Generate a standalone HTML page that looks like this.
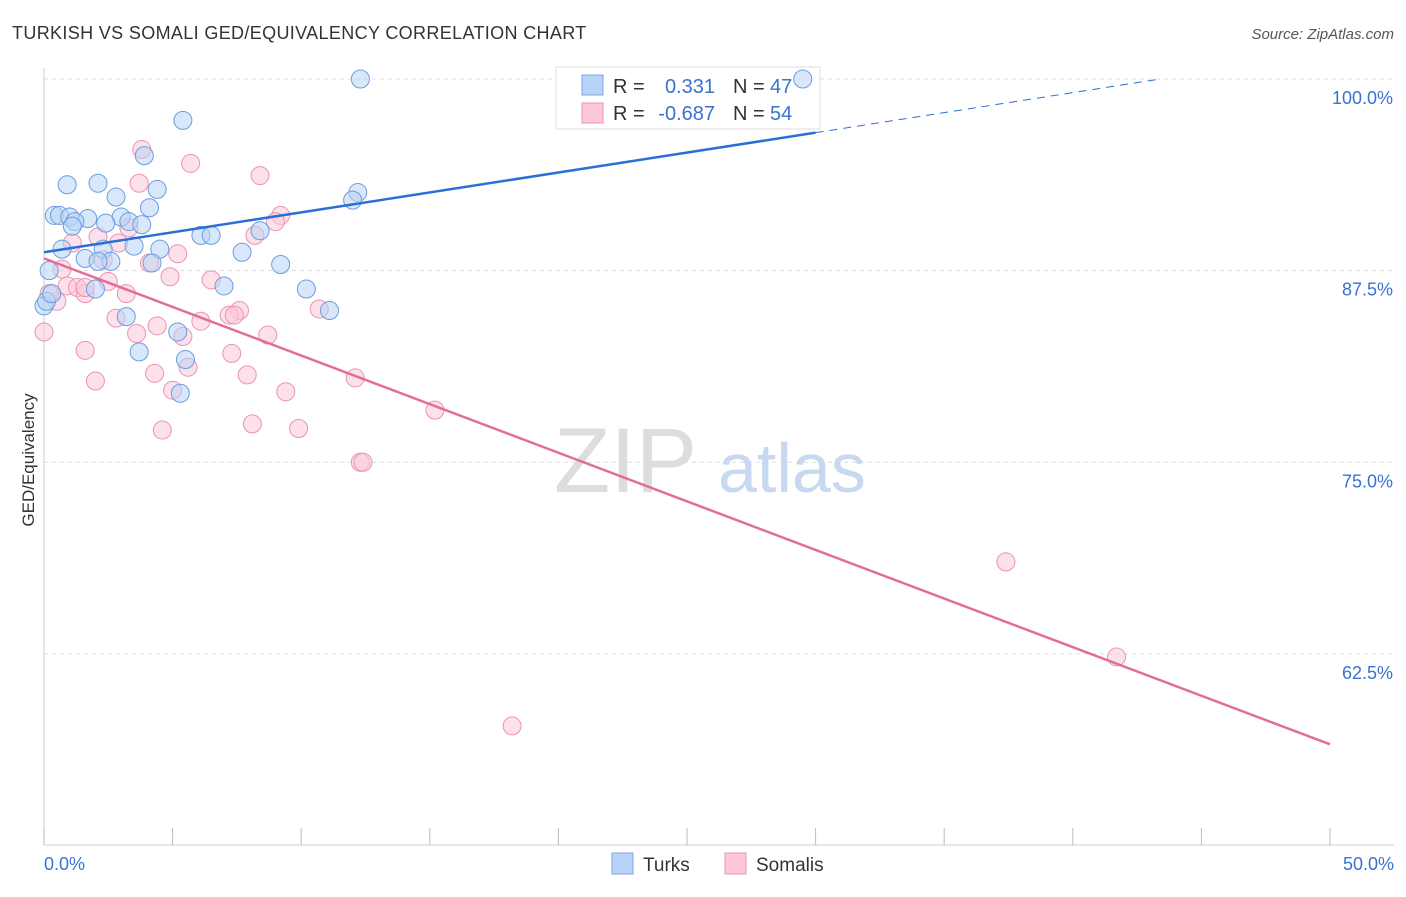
<!DOCTYPE html>
<html><head><meta charset="utf-8"><style>
body{margin:0;background:#fff;font-family:"Liberation Sans",sans-serif}
svg text{font-family:"Liberation Sans",sans-serif}
</style></head><body>
<svg id="c" width="1406" height="892" xmlns="http://www.w3.org/2000/svg">
<text x="12" y="39" font-size="18" fill="#333" letter-spacing="0.35">TURKISH VS SOMALI GED/EQUIVALENCY CORRELATION CHART</text>
<text x="1394" y="39" font-size="15" fill="#555" font-style="italic" text-anchor="end">Source: ZipAtlas.com</text>
<text x="34" y="460" font-size="17" fill="#333" transform="rotate(-90 34 460)" text-anchor="middle">GED/Equivalency</text>
<g id="grid"></g>
<text x="554" y="492" font-size="92" fill="#ddd" font-family="Liberation Serif">ZIP</text>
<text x="718" y="492" font-size="70" fill="#c8d8f0">atlas</text>
<g>
<rect x="556" y="67" width="264" height="62" fill="#fff" stroke="#ddd"/>
<rect x="582" y="75" width="21" height="20" fill="#b8d3f5" stroke="#7aa7e6"/>
<rect x="582" y="103" width="21" height="20" fill="#fcc8d8" stroke="#ec92b1"/>
<text x="613" y="93" font-size="20" fill="#333">R =</text>
<text x="715" y="93" font-size="20" fill="#3a72d0" text-anchor="end">0.331</text>
<text x="733" y="93" font-size="20" fill="#333">N =</text>
<text x="770" y="93" font-size="20" fill="#3a72d0">47</text>
<text x="613" y="120" font-size="20" fill="#333">R =</text>
<text x="715" y="120" font-size="20" fill="#3a72d0" text-anchor="end">-0.687</text>
<text x="733" y="120" font-size="20" fill="#333">N =</text>
<text x="770" y="120" font-size="20" fill="#3a72d0">54</text>
</g>
<g id="pts"></g>
<g id="lines"></g>
<g>
<rect x="612" y="853" width="21" height="21" fill="#b8d3f5" stroke="#7aa7e6"/>
<text x="643" y="871" font-size="19" fill="#333">Turks</text>
<rect x="725" y="853" width="21" height="21" fill="#fcc8d8" stroke="#ec92b1"/>
<text x="756" y="871" font-size="19" fill="#333">Somalis</text>
</g>
</svg>
<script>
const yTicks=[100,87.5,75,62.5];
const yTickLabels=["100.0%","87.5%","75.0%","62.5%"];
const xTicks=[0,5,10,15,20,25,30,35,40,45,50];
const xTickLabels=["0.0%","50.0%"];
const turksX=[12.3,29.5,5.4,3.9,0.9,2.1,4.4,12.2,2.8,12,4.1,0.4,0.6,1,1.7,3,1.2,2.4,3.3,3.8,1.1,6.1,6.5,8.4,0.7,2.3,3.5,4.5,7.7,1.6,2.6,2.1,4.2,9.2,0.2,7,10.2,2,11.1,3.2,5.2,3.7,5.5,5.3,0,0.1,0.3];
const turksY=[100,100,97.3,95,93.1,93.2,92.8,92.6,92.3,92.1,91.6,91.1,91.1,91,90.9,91,90.7,90.6,90.7,90.5,90.4,89.8,89.8,90.1,88.9,88.9,89.1,88.9,88.7,88.3,88.1,88.1,88,87.9,87.5,86.5,86.3,86.3,84.9,84.5,83.5,82.2,81.7,79.5,85.2,85.5,86];
const somX=[3.8,5.7,8.4,3.7,9.2,9,3.3,8.2,2.1,1.1,2.9,5.2,2.3,4.1,0.7,4.9,6.5,2.5,0.9,1.3,1.6,3.2,0.5,0,7.6,7.2,7.4,6.1,2.8,4.4,10.7,3.6,8.7,5.4,1.6,7.3,5.6,4.3,7.9,12.1,2,5,9.4,15.2,8.1,4.6,9.9,12.3,12.4,37.4,41.7,18.2,0.2,1.6];
const somY=[95.4,94.5,93.7,93.2,91.1,90.7,90.3,89.8,89.7,89.3,89.3,88.6,88.2,88,87.6,87.1,86.9,86.8,86.5,86.4,86,86,85.5,83.5,84.9,84.6,84.6,84.2,84.4,83.9,85,83.4,83.3,83.2,82.3,82.1,81.2,80.8,80.7,80.5,80.3,79.7,79.6,78.4,77.5,77.1,77.2,75,75,68.5,62.3,57.8,86,86.4];
const NS="http://www.w3.org/2000/svg";
const X=v=>44+v*25.72, Y=v=>79+(100-v)*15.33;
function mk(t,a,p){const e=document.createElementNS(NS,t);for(const k in a)e.setAttribute(k,a[k]);p.appendChild(e);return e;}
const g=document.getElementById('grid');
yTicks.forEach((v,i)=>{const l=mk('line',{x1:44,x2:1394,y1:Y(v),y2:Y(v),stroke:'#ddd','stroke-dasharray':'4,4'},g);


const t=mk('text',{x:1393,y:Y(v)+25,'font-size':18,fill:'#3a72d0','text-anchor':'end'},g);t.textContent=yTickLabels[i];

});
const ax=mk('line',{x1:44,x2:1394,y1:845,y2:845,stroke:'#ccc'},g);


const ay=mk('line',{x1:44,x2:44,y1:68,y2:845,stroke:'#ccc'},g);


xTicks.forEach(v=>{const l=mk('line',{x1:X(v),x2:X(v),y1:828,y2:845,stroke:'#bbb'},g);

});
[[0,'start',44],[50,'end',1394]].forEach((d,i)=>{const t=mk('text',{x:d[2],y:870,'font-size':18,fill:'#3a72d0','text-anchor':d[1]},g);t.textContent=xTickLabels[i];

});
const p=document.getElementById('pts');
function pts(xs,ys,f,s,n){xs.forEach((x,i)=>{const c=mk('circle',{cx:X(x),cy:Y(ys[i]),r:9,fill:f,'fill-opacity':0.55,stroke:s,'stroke-width':1},p);

});}
pts(somX,somY,'#fcc8d8','#ec92b1','somali-point');
pts(turksX,turksY,'#b8d3f5','#6a9de0','turk-point');
const L=document.getElementById('lines');
const bl=mk('line',{x1:X(0),y1:Y(88.7),x2:X(30),y2:Y(96.5),stroke:'#2a6fd6','stroke-width':2.5},L);


const bd=mk('line',{x1:X(30),y1:Y(96.5),x2:X(43.4),y2:Y(100),stroke:'#2a6fd6','stroke-width':1,'stroke-dasharray':'8,6'},L);


const pl=mk('line',{x1:X(0),y1:Y(88.3),x2:X(50),y2:Y(56.6),stroke:'#e26d98','stroke-width':2.5},L);


</script>
</body></html>
